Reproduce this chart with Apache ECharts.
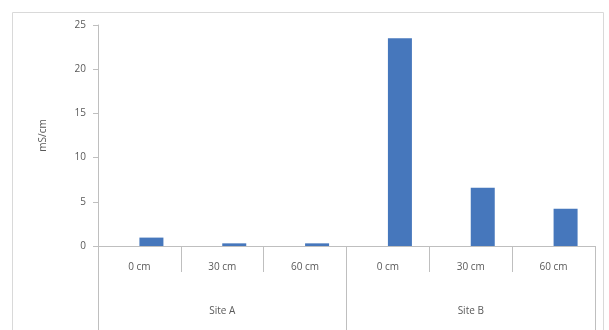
<!DOCTYPE html>
<html><head><meta charset="utf-8">
<script src="https://cdn.jsdelivr.net/npm/echarts@6/dist/echarts.min.js"></script>
<style>html,body{margin:0;padding:0;background:#fff}#c{width:609px;height:330px}</style>
</head><body><div id="c"></div>
<script>
const depthLabels = ['0 cm','30 cm','60 cm','0 cm','30 cm','60 cm'];
const siteLabels = ['Site A','Site B'];
const emptySeries = [null, null, null, null, null, null];
const values = [0.95, 0.3, 0.3, 23.5, 6.6, 4.2];
const yTicks = {min:0, max:25, interval:5};
const yTitle = 'mS/cm';

const txt = '#595959', ln = '#bfbfbf', font = 'Open Sans';
const chart = echarts.init(document.getElementById('c'), null, {renderer:'canvas'});
chart.setOption({
  animation:false,
  graphic:[{type:'rect', shape:{x:12.5,y:12.5,width:591,height:330}, style:{fill:'none', stroke:'#d9d9d9', lineWidth:1}, z:-1}],
  grid:{left:98, right:14, top:25, bottom:84},
  xAxis:[
    {type:'category', data:depthLabels, position:'bottom',
     axisLine:{lineStyle:{color:ln}},
     axisTick:{show:true, length:26, interval:0, alignWithLabel:false, lineStyle:{color:ln}},
     axisLabel:{interval:0, margin:16, fontSize:10, color:txt, fontFamily:font}},
    {type:'category', data:siteLabels, position:'bottom',
     axisLine:{show:false},
     axisTick:{show:true, length:90, interval:0, lineStyle:{color:ln}},
     axisLabel:{interval:0, margin:60, fontSize:10, color:txt, fontFamily:font}}
  ],
  yAxis:{type:'value', min:yTicks.min, max:yTicks.max, interval:yTicks.interval,
    name:yTitle, nameLocation:'middle', nameRotate:90, nameGap:50,
    nameTextStyle:{fontSize:10, color:txt, fontFamily:font},
    axisLine:{show:true, lineStyle:{color:ln}},
    axisTick:{show:true, length:5, lineStyle:{color:ln}},
    splitLine:{show:false},
    axisLabel:{margin:12, fontSize:10, color:txt, fontFamily:font}},
  series:[
    {type:'bar', xAxisIndex:0, data:emptySeries, barWidth:24, barGap:'0%', itemStyle:{color:'#c0504d'}},
    {type:'bar', xAxisIndex:0, data:values, barWidth:24, barGap:'0%', itemStyle:{color:'#4677bc'}}
  ]
});
</script></body></html>
